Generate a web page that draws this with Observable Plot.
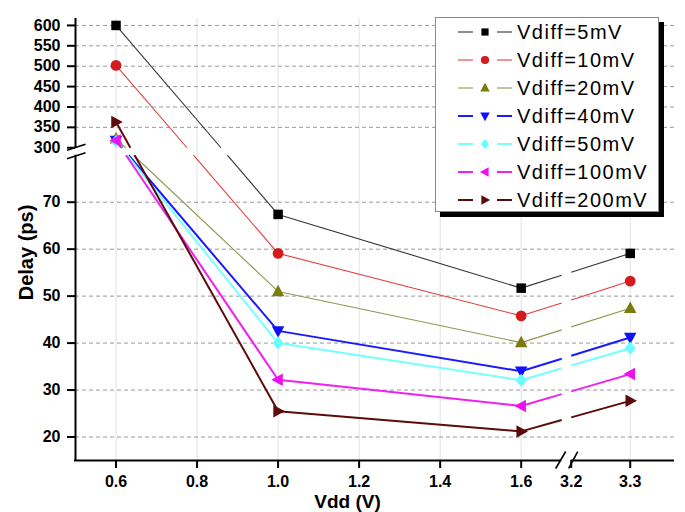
<!DOCTYPE html>
<html>
<head>
<meta charset="utf-8">
<script src="https://cdn.jsdelivr.net/npm/d3@7"></script>
<script src="https://cdn.jsdelivr.net/npm/@observablehq/plot@0.6"></script>
<style>
  body { margin: 0; background: #fff; }
  #wrap { position: relative; width: 685px; height: 512px; font-family: "Liberation Sans", Arial, sans-serif; }
  #legend { position: absolute; left: 435px; top: 17px; width: 222px; height: 193px;
            border: 1px solid #8a8a8a; background: #fff; box-shadow: 5px 5px 0 #000; }
  .row { position: absolute; left: 0; width: 222px; height: 28px; }
  .row svg { position: absolute; left: 0; top: 0; }
  .row span { position: absolute; left: 81px; top: 0; line-height: 29px; font-size: 20px;
              letter-spacing: 1.5px; color: #000; white-space: nowrap; }
</style>
</head>
<body>
<div id="wrap"></div>
<script>
// ---------------- data ----------------
const vdd = [0.6, 1.0, 1.6, 3.3];
const seriesLabels = ["Vdiff=5mV", "Vdiff=10mV", "Vdiff=20mV", "Vdiff=40mV", "Vdiff=50mV", "Vdiff=100mV", "Vdiff=200mV"];
const delay5mV   = [600, 67.4, 51.7, 59.1];
const delay10mV  = [502, 59.1, 45.8, 53.2];
const delay20mV  = [322, 51.0, 40.1, 47.4];
const delay40mV  = [318, 42.6, 34.0, 41.2];
const delay50mV  = [316, 40.0, 32.1, 38.9];
const delay100mV = [318, 32.2, 26.6, 33.4];
const delay200mV = [363, 25.5, 21.2, 27.7];
const xTickValues = [0.6, 0.8, 1.0, 1.2, 1.4, 1.6, 3.2, 3.3];
const xTickLabels = ["0.6", "0.8", "1.0", "1.2", "1.4", "1.6", "3.2", "3.3"];
const yTickValues = [20, 30, 40, 50, 60, 70, 300, 350, 400, 450, 500, 550, 600];

// ---------------- styles ----------------
const seriesDelays = [delay5mV, delay10mV, delay20mV, delay40mV, delay50mV, delay100mV, delay200mV];
const markerColors = ["#000000", "#d41c1c", "#7b7b0e", "#1010ff", "#66ffff", "#ee10ee", "#5c0a0a"];
const lineColors   = ["#333333", "#e43c3c", "#94944e", "#1a1aff", "#77ffff", "#f020f0", "#5c0a0a"];
const lineWidths   = [1.1, 1.1, 1.1, 2, 2, 2, 2];
const shapes       = ["square", "circle", "triUp", "triDown", "diamond", "triLeft", "triRight"];
const FONT = "Liberation Sans, Arial, Helvetica, sans-serif";

// ---------------- broken scales (piecewise) ----------------
const X_LEFT = [0.5, 1.7], X_RIGHT = [3.2, 3.375], X_K1 = 405, X_K2 = 590, X_GAP = 9.5;
const Y_LOW = [15, 80], Y_HIGH = [300, 617], Y_K1 = 4.7, Y_K2 = 0.408, Y_GAP = 7.5;
function xu(v) {
  if (v <= X_LEFT[1]) return (v - X_LEFT[0]) * X_K1;
  return (X_LEFT[1] - X_LEFT[0]) * X_K1 + X_GAP + (v - X_RIGHT[0]) * X_K2;
}
function yu(v) {
  if (v <= Y_LOW[1]) return (v - Y_LOW[0]) * Y_K1;
  return (Y_LOW[1] - Y_LOW[0]) * Y_K1 + Y_GAP + (v - Y_HIGH[0]) * Y_K2;
}
const xMax = xu(X_RIGHT[1]), yMax = yu(Y_HIGH[1]);
const xGapLo = xu(X_LEFT[1]), xGapHi = xGapLo + X_GAP;
const yGapLo = yu(Y_LOW[1]), yGapHi = yGapLo + Y_GAP;

// ---------------- symbols ----------------
function shapeSymbol(kind) {
  return {
    draw(ctx, size) {
      const s = Math.sqrt(size / Math.PI);
      const poly = (pts) => { ctx.moveTo(pts[0][0], pts[0][1]); for (let k = 1; k < pts.length; k++) ctx.lineTo(pts[k][0], pts[k][1]); ctx.closePath(); };
      switch (kind) {
        case "square": { const h = 0.95 * s; poly([[-h, -h], [h, -h], [h, h], [-h, h]]); break; }
        case "circle": { const r = 1.08 * s; ctx.moveTo(r, 0); ctx.arc(0, 0, r, 0, 2 * Math.PI); break; }
        case "triUp": poly([[0, -1.35 * s], [1.25 * s, 0.95 * s], [-1.25 * s, 0.95 * s]]); break;
        case "triDown": poly([[0, 1.35 * s], [1.25 * s, -0.95 * s], [-1.25 * s, -0.95 * s]]); break;
        case "triLeft": poly([[-1.35 * s, 0], [0.95 * s, -1.25 * s], [0.95 * s, 1.25 * s]]); break;
        case "triRight": poly([[1.35 * s, 0], [-0.95 * s, -1.25 * s], [-0.95 * s, 1.25 * s]]); break;
        case "diamond": poly([[0, -1.3 * s], [1.12 * s, 0], [0, 1.3 * s], [-1.12 * s, 0]]); break;
      }
    }
  };
}

// ---------------- line segments with break gaps ----------------
function cut(pieces, a, b, lo, hi) {
  if (a === b) return (a > lo && a < hi) ? [] : pieces;
  let t0 = (lo - a) / (b - a), t1 = (hi - a) / (b - a);
  if (t0 > t1) [t0, t1] = [t1, t0];
  const out = [];
  for (const [s, e] of pieces) {
    if (t1 <= s || t0 >= e) { out.push([s, e]); continue; }
    if (t0 > s) out.push([s, t0]);
    if (t1 < e) out.push([t1, e]);
  }
  return out;
}
function segmentsFor(delays) {
  const segs = [];
  for (let i = 0; i < vdd.length - 1; i++) {
    const ax = xu(vdd[i]), ay = yu(delays[i]), bx = xu(vdd[i + 1]), by = yu(delays[i + 1]);
    let pieces = [[0, 1]];
    pieces = cut(pieces, ax, bx, xGapLo, xGapHi);
    pieces = cut(pieces, ay, by, yGapLo, yGapHi);
    for (const [s, e] of pieces) {
      segs.push({x1: ax + (bx - ax) * s, y1: ay + (by - ay) * s, x2: ax + (bx - ax) * e, y2: ay + (by - ay) * e});
    }
  }
  return segs;
}

// ---------------- marks ----------------
const marks = [];
marks.push(Plot.ruleX(xTickValues.filter(v => v !== 3.2), {x: xu, stroke: "#e2e2e2", strokeWidth: 1}));
marks.push(Plot.ruleY(yTickValues.filter(v => v !== 300), {y: yu, stroke: "#9a9a9a", strokeWidth: 1, strokeDasharray: "4,3"}));
seriesDelays.forEach((delays, k) => {
  marks.push(Plot.link(segmentsFor(delays), {x1: "x1", y1: "y1", x2: "x2", y2: "y2", stroke: lineColors[k], strokeWidth: lineWidths[k]}));
});
seriesDelays.forEach((delays, k) => {
  marks.push(Plot.dot(vdd.map((v, i) => ({v, d: delays[i]})), {x: d => xu(d.v), y: d => yu(d.d), r: 5, symbol: shapeSymbol(shapes[k]), fill: markerColors[k], stroke: "none"}));
});
marks.push(Plot.ruleX([{y1: 0, y2: yGapLo}, {y1: yGapHi, y2: yMax}], {x: 0, y1: "y1", y2: "y2", stroke: "#000", strokeWidth: 2}));
marks.push(Plot.ruleY([{x1: -1, x2: xGapLo}, {x1: xGapHi, x2: xMax}], {y: 0, x1: "x1", x2: "x2", stroke: "#000", strokeWidth: 2}));
marks.push(Plot.ruleY(yTickValues, {y: yu, x1: -8, x2: 0, stroke: "#000", strokeWidth: 2}));
marks.push(Plot.ruleX(xTickValues, {x: xu, y1: -8, y2: 0, stroke: "#000", strokeWidth: 2}));
const breaks = [
  {x1: -8.5, y1: yGapLo - 3.5, x2: 10, y2: yGapLo + 2.5},
  {x1: -8.5, y1: yGapHi - 2.5, x2: 10, y2: yGapHi + 3.5},
  {x1: xGapLo - 6, y1: -8, x2: xGapLo + 4, y2: 9},
  {x1: xGapHi - 2.5, y1: -8, x2: xGapHi + 6.5, y2: 9}
];
marks.push(Plot.link(breaks, {x1: "x1", y1: "y1", x2: "x2", y2: "y2", stroke: "#000", strokeWidth: 1.6}));
marks.push(Plot.text(yTickValues, {x: 0, y: yu, text: d => String(d), dx: -15, textAnchor: "end", fontSize: 16, fontWeight: "bold", fontFamily: FONT, fill: "#000"}));
marks.push(Plot.text(xTickValues, {x: xu, y: 0, text: (d, i) => xTickLabels[i], dy: 15, lineAnchor: "top", fontSize: 16, fontWeight: "bold", fontFamily: FONT, fill: "#000"}));
marks.push(Plot.text(["Delay (ps)"], {frameAnchor: "left", textAnchor: "middle", lineAnchor: "middle", dx: -49, dy: 13, rotate: -90, fontSize: 20, fontWeight: "bold", fontFamily: FONT, fill: "#000"}));
marks.push(Plot.text(["Vdd (V)"], {frameAnchor: "bottom", textAnchor: "middle", lineAnchor: "middle", dx: -27.5, dy: 41.5, fontSize: 19, fontWeight: "bold", fontFamily: FONT, fill: "#000"}));

const chart = Plot.plot({
  width: 685, height: 512,
  marginLeft: 75, marginRight: 11, marginTop: 18, marginBottom: 52,
  x: {type: "linear", domain: [0, xMax], axis: null},
  y: {type: "linear", domain: [0, yMax], axis: null},
  style: {fontFamily: FONT, background: "white", overflow: "visible"},
  marks
});
const wrap = document.getElementById("wrap");
wrap.appendChild(chart);

// ---------------- legend ----------------
const legend = document.createElement("div");
legend.id = "legend";
seriesLabels.forEach((label, k) => {
  const row = document.createElement("div");
  row.className = "row";
  row.style.top = (28 * k) + "px";
  const p = d3.path();
  const s = 3.8;
  shapeSymbol(shapes[k]).draw({
    moveTo: (x, y) => p.moveTo(x + 49, y + 14),
    lineTo: (x, y) => p.lineTo(x + 49, y + 14),
    arc: (x, y, r, a0, a1) => p.arc(x + 49, y + 14, r, a0, a1),
    closePath: () => p.closePath()
  }, s * s * Math.PI);
  const sw = lineWidths[k];
  row.innerHTML =
    `<svg width="80" height="28">` +
    `<line x1="22" x2="37" y1="14" y2="14" stroke="${lineColors[k]}" stroke-width="${sw}"/>` +
    `<line x1="61" x2="76" y1="14" y2="14" stroke="${lineColors[k]}" stroke-width="${sw}"/>` +
    `<path d="${p.toString()}" fill="${markerColors[k]}"/>` +
    `</svg><span>${label}</span>`;
  legend.appendChild(row);
});
wrap.appendChild(legend);
</script>
</body>
</html>
